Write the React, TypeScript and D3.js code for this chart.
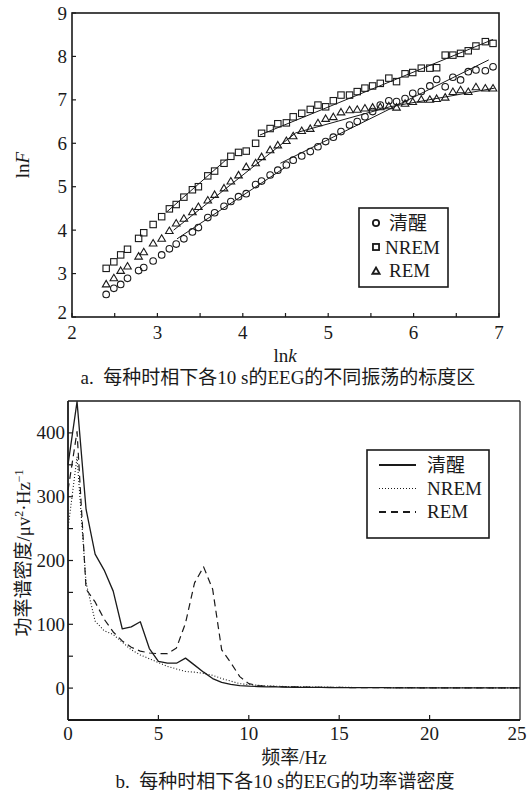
import React from "react";
import * as d3 from "d3";

// ---------- Chart a data ----------
const lnk = [2.40, 2.49, 2.57, 2.65, 2.78, 2.84, 2.95, 3.05, 3.14, 3.22, 3.31, 3.41, 3.48, 3.59, 3.67, 3.78, 3.86, 3.95, 4.04, 4.15, 4.22, 4.32, 4.41, 4.51, 4.59, 4.69, 4.79, 4.88, 4.97, 5.06, 5.15, 5.25, 5.34, 5.43, 5.52, 5.61, 5.71, 5.80, 5.90, 5.99, 6.09, 6.19, 6.27, 6.37, 6.46, 6.55, 6.64, 6.73, 6.84, 6.93];
const lnFAwake = [2.52, 2.66, 2.75, 2.89, 3.07, 3.14, 3.29, 3.43, 3.57, 3.68, 3.80, 3.96, 4.06, 4.29, 4.40, 4.55, 4.66, 4.77, 4.84, 5.05, 5.13, 5.27, 5.38, 5.50, 5.61, 5.71, 5.81, 5.92, 6.04, 6.14, 6.27, 6.42, 6.50, 6.61, 6.73, 6.88, 6.98, 6.96, 7.03, 7.15, 7.19, 7.32, 7.47, 7.30, 7.52, 7.46, 7.65, 7.69, 7.67, 7.76];
const lnFNrem = [3.12, 3.27, 3.43, 3.56, 3.81, 3.94, 4.13, 4.31, 4.49, 4.59, 4.76, 4.93, 5.00, 5.25, 5.36, 5.54, 5.70, 5.79, 5.82, 6.00, 6.23, 6.34, 6.45, 6.47, 6.61, 6.69, 6.78, 6.88, 6.84, 6.98, 7.11, 7.11, 7.19, 7.27, 7.32, 7.38, 7.50, 7.42, 7.60, 7.63, 7.73, 7.73, 7.74, 8.03, 8.03, 8.07, 8.13, 8.24, 8.34, 8.30];
const lnFRem = [2.76, 2.90, 3.07, 3.17, 3.40, 3.50, 3.70, 3.81, 3.99, 4.16, 4.27, 4.42, 4.54, 4.69, 4.82, 4.97, 5.13, 5.27, 5.46, 5.55, 5.69, 5.85, 5.96, 6.06, 6.17, 6.29, 6.34, 6.47, 6.57, 6.61, 6.72, 6.77, 6.78, 6.81, 6.83, 6.84, 6.86, 6.83, 6.92, 6.96, 7.01, 7.01, 7.03, 7.06, 7.19, 7.23, 7.19, 7.30, 7.27, 7.27];
// fitted scaling-region segments [lnk1, lnF1, lnk2, lnF2]
const fitAwake = [[3.23, 3.80, 4.50, 5.45], [4.44, 5.54, 6.88, 7.92]];
const fitNrem = [[3.11, 4.42, 3.81, 5.63], [4.20, 6.19, 6.93, 8.39]];
const fitRem = [[3.19, 4.00, 4.62, 6.24], [4.62, 6.24, 5.72, 6.84], [5.72, 6.84, 6.95, 7.27]];
const xTicksA = [2, 3, 4, 5, 6, 7];
const xMinorA = [2.5, 3.5, 4.5, 5.5, 6.5];
const yTicksA = [2, 3, 4, 5, 6, 7, 8, 9];
const seriesNamesA = ["清醒", "NREM", "REM"];

// ---------- Chart b data ----------
const freq = [0, 0.5, 1, 1.5, 2, 2.5, 3, 3.5, 4, 4.5, 5, 5.5, 6, 6.5, 7, 7.5, 8, 8.5, 9, 9.5, 10, 10.5, 11, 11.5, 12, 12.5, 13, 13.5, 14, 14.5, 15, 15.5, 16, 16.5, 17, 17.5, 18, 18.5, 19, 19.5, 20, 20.5, 21, 21.5, 22, 22.5, 23, 23.5, 24, 24.5, 25];
const psdAwake = [350, 449, 280, 210, 185, 152, 93, 96, 104, 62, 42, 39, 39, 47, 36, 25, 15, 9, 6, 4, 3, 2.5, 2, 1.8, 1.5, 1.3, 1.2, 1.1, 1, 0.9, 0.8, 0.7, 0.7, 0.6, 0.6, 0.6, 0.5, 0.5, 0.5, 0.5, 0.4, 0.4, 0.4, 0.4, 0.4, 0.3, 0.3, 0.3, 0.3, 0.3, 0.3];
const psdNrem = [250, 362, 165, 105, 90, 84, 72, 60, 52, 46, 40, 34, 30, 26, 25, 23, 20, 15, 11, 7, 5.5, 4.5, 3.5, 3, 2.5, 2.2, 2, 1.8, 1.6, 1.4, 1.2, 1.1, 1, 0.9, 0.9, 0.8, 0.8, 0.7, 0.7, 0.7, 0.6, 0.6, 0.6, 0.5, 0.5, 0.5, 0.5, 0.4, 0.4, 0.4, 0.4];
const psdRem = [310, 402, 155, 135, 108, 88, 74, 64, 58, 55, 54, 54, 63, 102, 165, 190, 155, 60, 40, 18, 7, 4, 3, 2.5, 2, 1.8, 1.6, 1.4, 1.2, 1.1, 1, 0.9, 0.8, 0.8, 0.7, 0.7, 0.6, 0.6, 0.6, 0.5, 0.5, 0.5, 0.5, 0.4, 0.4, 0.4, 0.4, 0.4, 0.3, 0.3, 0.3];
const xTicksB = [0, 5, 10, 15, 20, 25];
const yTicksB = [0, 100, 200, 300, 400];
const yMinorB = [50, 150, 250, 350];
const seriesNamesB = ["清醒", "NREM", "REM"];

const FONT = "Liberation Serif, Tinos, Times New Roman, DejaVu Serif, Noto Sans CJK SC, serif";
const INK = "#1a1a1a";

function Marker({ kind, x, y, s = 1, sw = 1.1 }: { kind: string; x: number; y: number; s?: number; sw?: number }) {
  if (kind === "circle") return <circle cx={x} cy={y} r={3.3 * s} fill="none" stroke={INK} strokeWidth={sw} />;
  if (kind === "square") return <rect x={x - 3.2 * s} y={y - 3.2 * s} width={6.4 * s} height={6.4 * s} fill="none" stroke={INK} strokeWidth={sw} />;
  const h = 3.6 * s;
  return <path d={`M${x},${y - h}L${x + 3.8 * s},${y + h * 0.8}L${x - 3.8 * s},${y + h * 0.8}Z`} fill="none" stroke={INK} strokeWidth={sw} />;
}

export default function App() {
  const xA = d3.scaleLinear().domain([2, 7]).range([72, 499]);
  const yA = d3.scaleLinear().domain([2, 9]).range([317, 13]);
  const xB = d3.scaleLinear().domain([0, 25]).range([68, 520]);
  const yB = d3.scaleLinear().domain([-50, 450]).range([720, 401]);
  const lineB = d3.line<number>().x((_, i) => xB(freq[i])).y((d) => yB(d));

  const seriesA = [
    { kind: "circle", vals: lnFAwake, fits: fitAwake },
    { kind: "square", vals: lnFNrem, fits: fitNrem },
    { kind: "triangle", vals: lnFRem, fits: fitRem },
  ];
  const seriesB = [
    { vals: psdAwake, dash: undefined as string | undefined, w: 1.3 },
    { vals: psdNrem, dash: "1,2", w: 1.1 },
    { vals: psdRem, dash: "7,4.5", w: 1.2 },
  ];
  const [a0, a1] = xA.range();
  const [b0, b1] = xB.range();
  const txt = { fontFamily: FONT, fill: INK } as React.CSSProperties;

  return (
    <svg width={530} height={797} style={{ position: "absolute", left: 0, top: 0, background: "#fff", fontFamily: FONT }}>
      <rect x={0} y={0} width={530} height={797} fill="#fff" />
      {/* ===== Chart a ===== */}
      <g>
        {seriesA.map((s, si) =>
          s.fits.map((f, fi) => (
            <line key={`f${si}-${fi}`} x1={xA(f[0])} y1={yA(f[1])} x2={xA(f[2])} y2={yA(f[3])} stroke={INK} strokeWidth={1} />
          ))
        )}
        {seriesA.map((s, si) =>
          s.vals.map((v, i) => <Marker key={`m${si}-${i}`} kind={s.kind} x={xA(lnk[i])} y={yA(v)} />)
        )}
        <rect x={a0} y={yA(9)} width={a1 - a0} height={yA(2) - yA(9)} fill="none" stroke={INK} strokeWidth={1.6} />
        {[...xTicksA, ...xMinorA].map((t) => (
          <line key={`xt${t}`} x1={xA(t)} x2={xA(t)} y1={yA(2)} y2={yA(2) - 4} stroke={INK} strokeWidth={1.2} />
        ))}
        {yTicksA.map((t) => (
          <line key={`yt${t}`} x1={a0} x2={a0 + 4} y1={yA(t)} y2={yA(t)} stroke={INK} strokeWidth={1.2} />
        ))}
        {xTicksA.map((t) => (
          <text key={`xl${t}`} x={xA(t)} y={339} textAnchor="middle" fontSize={19} style={txt}>{t}</text>
        ))}
        {yTicksA.map((t) => (
          <text key={`yl${t}`} x={67} y={yA(t) + (t === 2 ? 2 : 6.5)} textAnchor="end" fontSize={19} style={txt}>{t}</text>
        ))}
        <text x={285} y={362} textAnchor="middle" fontSize={19} style={txt}>ln<tspan fontStyle="italic">k</tspan></text>
        <text transform={`translate(29,165) rotate(-90)`} textAnchor="middle" fontSize={19} style={txt}>ln<tspan fontStyle="italic">F</tspan></text>
        {/* legend a */}
        <rect x={359} y={208} width={89} height={79} fill="#fff" stroke={INK} strokeWidth={1.6} />
        {seriesA.map((s, i) => (
          <g key={`la${i}`}>
            <Marker kind={s.kind} x={376} y={223 + i * 24} s={0.95} sw={1.8} />
            <text x={i === 1 ? 385 : 389} y={230 + i * 23.5} fontSize={19} style={txt}>{seriesNamesA[i]}</text>
          </g>
        ))}
        <text x={278} y={384} textAnchor="middle" fontSize={19} style={txt}>a.&#160; 每种时相下各10 s的EEG的不同振荡的标度区</text>
      </g>

      {/* ===== Chart b ===== */}
      <g>
        {seriesB.map((s, i) => (
          <path key={`pb${i}`} d={lineB(s.vals) || ""} fill="none" stroke={INK} strokeWidth={s.w} strokeDasharray={s.dash} strokeLinejoin="round" />
        ))}
        <line x1={b0} x2={b1} y1={yB(450)} y2={yB(450)} stroke={INK} strokeWidth={1.4} />
        <line x1={b1} x2={b1} y1={yB(450)} y2={yB(-50)} stroke={INK} strokeWidth={1.2} />
        <line x1={b0} x2={b1} y1={yB(-50)} y2={yB(-50)} stroke={INK} strokeWidth={1.8} />
        <line x1={b0} x2={b0} y1={yB(450)} y2={yB(-50)} stroke={INK} strokeWidth={1.8} />
        {xTicksB.slice(1, -1).map((t) => (
          <line key={`bxt${t}`} x1={xB(t)} x2={xB(t)} y1={yB(-50)} y2={yB(-50) - 5} stroke={INK} strokeWidth={1.2} />
        ))}
        {[...yTicksB, ...yMinorB].map((t) => (
          <line key={`byt${t}`} x1={b0} x2={b0 + 5} y1={yB(t)} y2={yB(t)} stroke={INK} strokeWidth={1.2} />
        ))}
        {xTicksB.map((t) => (
          <text key={`bxl${t}`} x={xB(t) + (t === 25 ? -3 : 0)} y={740} textAnchor="middle" fontSize={19} style={txt}>{t}</text>
        ))}
        {yTicksB.map((t) => (
          <text key={`byl${t}`} x={65} y={yB(t) + 6.5} textAnchor="end" fontSize={19} style={txt}>{t}</text>
        ))}
        <text x={294} y={764} textAnchor="middle" fontSize={19} style={txt}>频率/Hz</text>
        <text transform={`translate(30,553) rotate(-90)`} textAnchor="middle" fontSize={19} style={txt}>
          功率谱密度/μv<tspan fontSize={12} dy={-7}>2</tspan><tspan dy={7}>·Hz</tspan><tspan fontSize={12} dy={-7}>−1</tspan>
        </text>
        {/* legend b */}
        <rect x={367} y={450} width={122} height={88} fill="#fff" stroke={INK} strokeWidth={1.6} />
        {seriesB.map((s, i) => (
          <g key={`lb${i}`}>
            <line x1={379} x2={416} y1={465 + i * 23.5} y2={465 + i * 23.5} stroke={INK} strokeWidth={i === 1 ? 1.1 : 1.8} strokeDasharray={i === 1 ? "1,2" : i === 2 ? "7,5" : undefined} />
            <text x={427} y={472 + i * 23} fontSize={19} style={txt}>{seriesNamesB[i]}</text>
          </g>
        ))}
        <text x={285} y={788} textAnchor="middle" fontSize={19} style={txt}>b.&#160; 每种时相下各10 s的EEG的功率谱密度</text>
      </g>
    </svg>
  );
}
